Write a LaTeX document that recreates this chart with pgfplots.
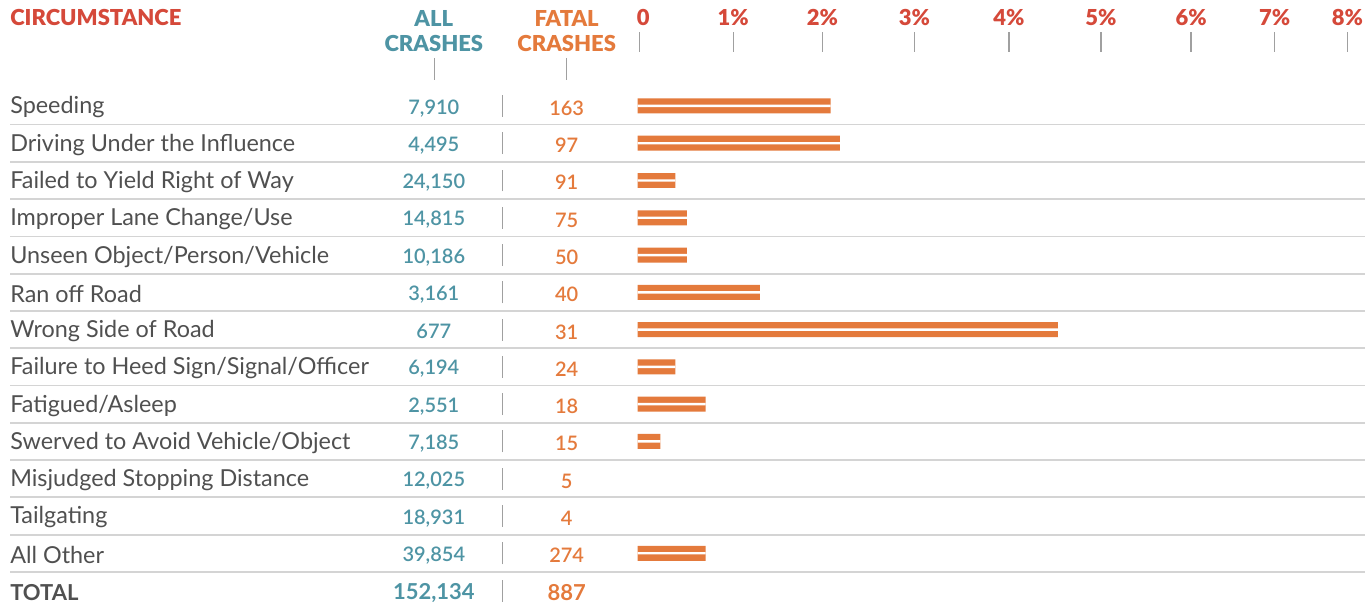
\documentclass[border=0pt]{standalone}
\usepackage{pgfplots}
\usepackage{pgfplotstable}
\pgfplotsset{compat=1.18}
\usepackage{fontspec}
\setmainfont{Lato}
\newfontfamily\hdr{Lato Black}
\newfontfamily\numf{Lato Semibold}
\definecolor{hred}{HTML}{D5493A}
\definecolor{hteal}{HTML}{4E94A4}
\definecolor{horange}{HTML}{E47A3C}
\definecolor{txtgray}{HTML}{505050}
\definecolor{sepgray}{HTML}{D4D4D4}
\definecolor{tickgray}{HTML}{A0A0A0}

\pgfplotstableread{
row pct
1 2.10
2 2.20
3 0.41
4 0.535
5 0.535
6 1.33
7 4.57
8 0.41
9 0.74
10 0.247
13 0.74
}\bars

\pgfplotstableread{
row all fatal
1 7910 163
2 4495 97
3 24150 91
4 14815 75
5 10186 50
6 3161 40
7 677 31
8 6194 24
9 2551 18
10 7185 15
11 12025 5
12 18931 4
13 39854 274
}\counts

\pgfplotstableread{
row all fatal
14 152134 887
}\total

\begin{document}
\begin{tikzpicture}
\begin{axis}[
  width=1366pt, height=607pt, scale only axis,
  xmin=-6.935, xmax=7.913, ymin=-1.842, ymax=14.43, y dir=reverse,
  axis line style={draw=none},
  xtick=\empty,
  ytick={1,...,14},
  yticklabels={Speeding, Driving Under the Influence, Failed to Yield Right of Way,
    Improper Lane Change/Use, Unseen Object/Person/Vehicle, Ran off Road,
    Wrong Side of Road, Failure to Heed Sign/Signal/Officer, Fatigued/Asleep,
    Swerved to Avoid Vehicle/Object, Misjudged Stopping Distance, Tailgating,
    All Other, {\fontsize{22}{24}\selectfont\bfseries TOTAL}},
  major tick length=0pt,
  yticklabel style={anchor=west, inner sep=0pt, xshift=10pt, yshift=-1.5pt,
    font=\fontsize{23.4}{25}\selectfont, text=txtgray},
  clip=false,
]
% row separators
\pgfplotsinvokeforeach{1.5,2.5,3.5,4.5,5.5,6.5,7.5,8.5,9.5,10.5,11.5,12.5,13.5}{
  \draw[sepgray, line width=1.8pt] (axis cs:-6.826,#1) -- (axis cs:7.913,#1);
}
% column separators
\pgfplotsinvokeforeach{1,...,14}{
  \draw[tickgray, line width=1.3pt] ([yshift=-11pt]axis cs:-1.467,#1) -- ([yshift=11pt]axis cs:-1.467,#1);
}
% top axis ticks
\pgfplotsinvokeforeach{0.02,1.04,2.01,3.01,4.04,5.04,6.02,6.93,7.72}{
  \draw[tickgray, line width=1.3pt] (axis cs:#1,-0.98) -- (axis cs:#1,-0.44);
}
\pgfplotsinvokeforeach{-2.207,-0.772}{
  \draw[tickgray, line width=1.3pt] (axis cs:#1,-0.29) -- (axis cs:#1,0.30);
}
% headers
\begin{scope}[every node/.style={font=\hdr\fontsize{22}{25}\selectfont, inner sep=0pt}]
\node[anchor=west, text=hred] at (axis cs:-6.826,-1.36) {CIRCUMSTANCE};
\node[align=center, text=hteal] at (axis cs:-2.217,-1.02) {ALL\\CRASHES};
\node[align=center, text=horange] at (axis cs:-0.772,-1.02) {FATAL\\CRASHES};
\node[text=hred] at (axis cs:0.06,-1.36) {0};
\node[text=hred] at (axis cs:1.04,-1.36) {1\%};
\node[text=hred] at (axis cs:2.01,-1.36) {2\%};
\node[text=hred] at (axis cs:3.01,-1.36) {3\%};
\node[text=hred] at (axis cs:4.04,-1.36) {4\%};
\node[text=hred] at (axis cs:5.04,-1.36) {5\%};
\node[text=hred] at (axis cs:6.02,-1.36) {6\%};
\node[text=hred] at (axis cs:6.93,-1.36) {7\%};
\node[text=hred] at (axis cs:7.72,-1.36) {8\%};
\end{scope}
% bars
\addplot[xbar, bar shift=0pt, bar width=15pt, fill=horange, draw=none]
  table[x=pct, y=row] {\bars};
\addplot[xbar, bar shift=0pt, bar width=2.4pt, fill=white, draw=none]
  table[x=pct, y=row] {\bars};
% counts
\addplot[draw=none, mark=none, nodes near coords, point meta=explicit,
  nodes near coords={\pgfmathprintnumber[fixed,precision=0,1000 sep={,},assume math mode=true]{\pgfplotspointmeta}},
  nodes near coords style={anchor=center, inner sep=0pt, yshift=-2.2pt, text=hteal, font=\numf\fontsize{20}{22}\selectfont}]
  table[x expr=-2.217, y=row, meta=all] {\counts};
\addplot[draw=none, mark=none, nodes near coords, point meta=explicit,
  nodes near coords={\pgfmathprintnumber[fixed,precision=0,1000 sep={,},assume math mode=true]{\pgfplotspointmeta}},
  nodes near coords style={anchor=center, inner sep=0pt, yshift=-2.2pt, text=horange, font=\numf\fontsize{20}{22}\selectfont}]
  table[x expr=-0.772, y=row, meta=fatal] {\counts};
\addplot[draw=none, mark=none, nodes near coords, point meta=explicit,
  nodes near coords={\pgfmathprintnumber[fixed,precision=0,1000 sep={,},assume math mode=true]{\pgfplotspointmeta}},
  nodes near coords style={anchor=center, inner sep=0pt, yshift=-2pt, text=hteal, font=\bfseries\fontsize{22}{24}\selectfont}]
  table[x expr=-2.217, y=row, meta=all] {\total};
\addplot[draw=none, mark=none, nodes near coords, point meta=explicit,
  nodes near coords={\pgfmathprintnumber[fixed,precision=0,1000 sep={,},assume math mode=true]{\pgfplotspointmeta}},
  nodes near coords style={anchor=center, inner sep=0pt, yshift=-2pt, text=horange, font=\bfseries\fontsize{22}{24}\selectfont}]
  table[x expr=-0.772, y=row, meta=fatal] {\total};
\end{axis}
\end{tikzpicture}
\end{document}
